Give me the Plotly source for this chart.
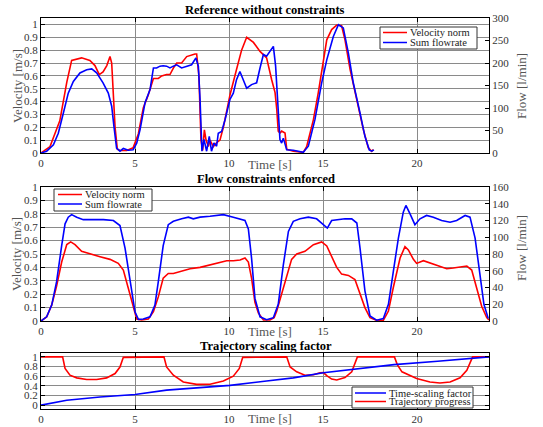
import plotly.graph_objects as go

# ---------------- data ----------------
# Panel 1: Reference without constraints
t_vel1 = [0, 0.48, 1.0, 1.37, 1.63, 1.9, 2.16, 2.6, 2.87, 3.1, 3.3, 3.5, 3.67, 3.76, 3.94, 4.06, 4.2, 4.56, 4.9,
          5.18, 5.44, 5.7, 5.98, 6.24, 6.42, 6.68, 6.86, 7.04, 7.22, 7.48, 7.75, 8.19, 8.28, 8.4, 8.51, 8.6, 8.69,
          8.78, 8.9, 8.99, 9.17, 9.34, 9.52, 9.7, 10.05, 10.4, 10.67, 10.94, 11.3, 11.65, 12.0, 12.27, 12.45, 12.54,
          12.62, 12.71, 12.8, 12.98, 13.07, 13.42, 13.95, 14.13, 14.49, 14.75, 15.02, 15.2, 15.46, 15.73, 15.99,
          16.17, 16.44, 16.79, 17.15, 17.41, 17.59, 17.68]
vel1 = [0, 0.05, 0.25, 0.55, 0.72, 0.73, 0.74, 0.72, 0.68, 0.61, 0.63, 0.68, 0.75, 0.70, 0.20, 0.03, 0.02, 0.02, 0.04,
        0.15, 0.35, 0.45, 0.58, 0.58, 0.60, 0.61, 0.61, 0.66, 0.70, 0.70, 0.75, 0.77, 0.77, 0.60, 0.10, 0.02, 0.18,
        0.10, 0.05, 0.10, 0.05, 0.08, 0.10, 0.20, 0.45, 0.65, 0.80, 0.90, 0.86, 0.79, 0.74, 0.57, 0.47, 0.34,
        0.17, 0.155, 0.17, 0.155, 0.03, 0.013, 0.005, 0.05, 0.26, 0.47, 0.72, 0.88, 0.96, 0.995, 0.99,
        0.88, 0.65, 0.41, 0.18, 0.04, 0.013, 0.026]
t_flow1 = [0, 0.3, 0.66, 0.92, 1.19, 1.45, 1.72, 2.07, 2.43, 2.7, 2.96, 3.3, 3.58, 3.76, 3.88, 4.02, 4.2, 4.38, 4.64,
           4.9, 5.09, 5.27, 5.53, 5.8, 5.98, 6.15, 6.33, 6.5, 6.68, 6.86, 7.04, 7.22, 7.48, 7.75, 8.01, 8.24, 8.37,
           8.46, 8.56, 8.67, 8.81, 8.95, 9.07, 9.2, 9.34, 9.43, 9.61, 9.79, 10.05, 10.23, 10.4, 10.58, 10.94, 11.2,
           11.47, 11.65, 11.83, 12.0, 12.27, 12.36, 12.48, 12.62, 12.71, 12.8, 12.89, 13.07, 13.42, 13.95, 14.22,
           14.57, 14.93, 15.2, 15.55, 15.82, 16.08, 16.35, 16.61, 16.97, 17.23, 17.46, 17.59, 17.71]
flow1 = [0, 4, 18, 44, 89, 133, 159, 178, 185, 187, 178, 156, 133, 104, 59, 11, 4, 10, 6,
         7, 22, 52, 111, 141, 189, 189, 193, 194, 193, 189, 193, 196, 189, 193, 196, 211, 193,
         119, 4, 30, 4, 37, 4, 22, 15, 44, 48, 74, 119, 133, 163, 181, 144, 152,
         156, 189, 219, 215, 233, 237, 193, 96, 30, 22, 33, 7, 6, 1.5, 15,
         74, 156, 207, 259, 285, 278, 222, 156, 89, 37, 7, 4, 7]

# Panel 2: Flow constraints enforced
t_vel2 = [0, 0.3, 0.57, 0.83, 1.1, 1.37, 1.58, 1.81, 2.16, 2.6, 3.14, 3.67, 4.11, 4.38, 4.65, 4.91, 5.09, 5.35, 5.71,
          5.98, 6.24, 6.5, 6.77, 7.04, 7.48, 7.93, 8.46, 8.99, 9.52, 9.88, 10.23, 10.59, 10.85, 11.03, 11.2, 11.38,
          11.56, 11.83, 12.18, 12.4, 12.54, 12.8, 13.07, 13.33, 13.6, 14.04, 14.49, 14.93, 15.2, 15.46, 15.73, 15.99,
          16.35, 16.7, 16.97, 17.23, 17.5, 17.85, 18.21, 18.48, 18.74, 19.1, 19.36, 19.54, 19.81, 19.98, 20.34,
          20.78, 21.22, 21.58, 21.93, 22.29, 22.65, 22.91, 23.18, 23.44, 23.71, 23.83]
vel2 = [0, 0.03, 0.12, 0.26, 0.44, 0.57, 0.59, 0.57, 0.52, 0.50, 0.48, 0.46, 0.43, 0.38, 0.24, 0.09, 0.015, 0.007, 0.015,
        0.07, 0.18, 0.32, 0.355, 0.355, 0.37, 0.39, 0.40, 0.42, 0.44, 0.45, 0.45, 0.455, 0.47, 0.44, 0.32, 0.14,
        0.06, 0.007, 0.007, 0.025, 0.074, 0.20, 0.35, 0.46, 0.50, 0.52, 0.57, 0.59, 0.56, 0.48, 0.40, 0.35,
        0.34, 0.31, 0.21, 0.10, 0.025, 0.005, 0.005, 0.074, 0.25, 0.47, 0.555, 0.53, 0.46, 0.43, 0.45,
        0.43, 0.41, 0.39, 0.395, 0.40, 0.41, 0.38, 0.25, 0.11, 0.025, 0.007]
t_flow2 = [0, 0.3, 0.57, 0.83, 1.1, 1.28, 1.45, 1.63, 1.9, 2.25, 2.78, 3.32, 3.85, 4.2, 4.47, 4.73, 5.0, 5.18, 5.44,
           5.8, 6.06, 6.24, 6.5, 6.77, 7.04, 7.48, 7.84, 8.1, 8.46, 8.99, 9.7, 10.23, 10.85, 11.03, 11.2, 11.38,
           11.65, 12.0, 12.36, 12.62, 12.89, 13.16, 13.42, 13.78, 14.22, 14.66, 15.02, 15.23, 15.46, 15.82, 16.17,
           16.53, 16.8, 16.97, 17.23, 17.5, 17.85, 18.21, 18.48, 18.74, 19.01, 19.27, 19.41, 19.63, 19.89, 20.16,
           20.51, 20.87, 21.31, 21.76, 22.11, 22.56, 22.82, 23.09, 23.35, 23.56, 23.79]
flow2 = [0, 5, 19, 47, 90, 116, 124, 127, 124, 121, 121, 121, 120, 114, 87, 47, 11, 2, 2.4,
         5, 19, 47, 90, 115, 119, 122, 124, 122, 124, 125, 127, 124, 120, 110, 75, 27,
         5, 1.5, 4, 20, 67, 107, 119, 122, 124, 122, 115, 111, 120, 121, 122,
         122, 117, 87, 36, 6, 1, 3, 20, 59, 99, 130, 138, 128, 115, 122,
         126, 124, 120, 118, 120, 126, 124, 99, 55, 20, 3]

# Panel 3: Trajectory scaling factor
t_prog = [0, 1.15, 1.28, 1.54, 1.9, 2.43, 2.96, 3.49, 3.94, 4.2, 4.38, 6.54, 6.68, 7.04, 7.57, 8.28, 8.99, 9.7, 10.23,
          10.55, 10.73, 13.07, 13.25, 13.6, 14.04, 14.49, 14.84, 15.02, 15.2, 15.46, 15.73, 16.17, 16.53, 16.7, 16.83,
          18.8, 18.95, 19.2, 19.98, 20.69, 21.22, 21.76, 22.29, 22.65, 22.86, 22.96, 23.83]
prog = [1, 1, 0.76, 0.62, 0.565, 0.53, 0.53, 0.565, 0.655, 0.79, 0.99, 1, 0.79, 0.62, 0.48, 0.43, 0.434, 0.50, 0.60,
        0.76, 0.99, 1, 0.79, 0.69, 0.62, 0.63, 0.67, 0.675, 0.61, 0.54, 0.52, 0.57, 0.69, 0.86, 1.0,
        1, 0.84, 0.69, 0.55, 0.48, 0.46, 0.48, 0.565, 0.72, 0.90, 1.0, 1.0]
t_scale = [0, 1.37, 3.14, 5.0, 6.68, 8.46, 10.05, 12.0, 13.42, 15.02, 16.97, 18.78, 21.1, 23.83]
scale = [0, 0.10, 0.17, 0.22, 0.31, 0.365, 0.41, 0.50, 0.565, 0.67, 0.76, 0.84, 0.91, 1.0]

titles = ["Reference without constraints", "Flow constraints enforced", "Trajectory scaling factor"]
legend1 = ["Velocity norm", "Sum flowrate"]
legend3 = ["Time-scaling factor", "Trajectory progress"]
x_ticks = [0, 5, 10, 15, 20]

# ---------------- layout helpers ----------------
W, H = 543, 427
L, R, T, B = 41, 489, 18, 409
RED, BLUE = "#ff0000", "#0000ff"
FONT = "Liberation Serif, Times New Roman, serif"
XMAX = 23.83


def px(x, y):
    return (x - L) / (R - L), (B - y) / (B - T)


def dom(top, bot):
    return [px(0, bot)[1], px(0, top)[1]]


fig = go.Figure()
lw = 1.6
fig.add_trace(go.Scatter(x=t_vel1, y=vel1, mode="lines", line=dict(color=RED, width=lw), xaxis="x", yaxis="y", showlegend=False))
fig.add_trace(go.Scatter(x=t_flow1, y=flow1, mode="lines", line=dict(color=BLUE, width=lw), xaxis="x", yaxis="y2", showlegend=False))
fig.add_trace(go.Scatter(x=t_flow2, y=flow2, mode="lines", line=dict(color=BLUE, width=lw), xaxis="x2", yaxis="y4", showlegend=False))
fig.add_trace(go.Scatter(x=t_vel2, y=vel2, mode="lines", line=dict(color=RED, width=lw), xaxis="x2", yaxis="y3", showlegend=False))
fig.add_trace(go.Scatter(x=t_prog, y=prog, mode="lines", line=dict(color=RED, width=lw), xaxis="x3", yaxis="y5", showlegend=False))
fig.add_trace(go.Scatter(x=t_scale, y=scale, mode="lines", line=dict(color=BLUE, width=lw), xaxis="x3", yaxis="y5", showlegend=False))

GRID = "#8a8a8a"
TICKC = "#333333"
tickfont = dict(family=FONT, size=11, color=TICKC)

xcommon = dict(range=[0, XMAX], tickvals=x_ticks, showgrid=True, gridcolor=GRID, gridwidth=1,
               showline=True, linecolor="black", linewidth=1, mirror="ticks", ticks="inside", ticklen=4,
               tickcolor="black", tickfont=tickfont, zeroline=False, fixedrange=True, automargin=False)
ycommon = dict(showgrid=True, gridcolor=GRID, gridwidth=1, showline=True, linecolor="black", linewidth=1,
               ticks="inside", ticklen=4, tickcolor="black", tickfont=tickfont, zeroline=False, automargin=False)
y2common = dict(showgrid=False, showline=True, linecolor="black", ticks="inside", ticklen=4, tickcolor="black",
                tickfont=tickfont, zeroline=False, automargin=False)

d1 = dom(18, 153)
d2 = dom(187, 321)
d3 = dom(353, 409)

vt = [i / 10 for i in range(11)]
vtt = ["0"] + [f"{i/10:g}" for i in range(1, 10)] + ["1"]

fig.update_layout(
    template="none",
    width=W, height=H,
    margin=dict(l=L, r=W - R, t=T, b=H - B, autoexpand=False),
    paper_bgcolor="white", plot_bgcolor="white",
    font=dict(family=FONT),
    xaxis=dict(domain=[0, 1], anchor="y", **xcommon),
    xaxis2=dict(domain=[0, 1], anchor="y3", **xcommon),
    xaxis3=dict(domain=[0, 1], anchor="y5", **xcommon),
    yaxis=dict(domain=d1, anchor="x", range=[0, 1.05], tickvals=vt, ticktext=vtt, mirror=True, **ycommon),
    yaxis2=dict(overlaying="y", anchor="x", side="right", range=[0, 300], tickvals=list(range(0, 301, 50)), **y2common),
    yaxis3=dict(domain=d2, anchor="x2", range=[0, 1], tickvals=vt, ticktext=vtt, mirror=True, **ycommon),
    yaxis4=dict(overlaying="y3", anchor="x2", side="right", range=[0, 160], tickvals=list(range(0, 161, 20)), **y2common),
    yaxis5=dict(domain=d3, anchor="x3", range=[-0.08, 1.08], tickvals=[0, 0.2, 0.4, 0.6, 0.8, 1],
                ticktext=["0", "0.2", "0.4", "0.6", "0.8", "1"], mirror="ticks", **ycommon),
)

ann = []
shapes = []


def text(x, y, s, size=13, color="#555555", bold=False, angle=0, xanchor="center"):
    xp, yp = px(x, y)
    ann.append(dict(x=xp, y=yp, xref="paper", yref="paper", text=f"<b>{s}</b>" if bold else s, showarrow=False,
                    font=dict(family=FONT, size=size, color=color), textangle=angle, xanchor=xanchor,
                    yanchor="middle"))


# titles
text(265, 10, titles[0], size=12.5, color="black", bold=True)
text(266, 179, titles[1], size=12.5, color="black", bold=True)
text(266, 346, titles[2], size=12.5, color="black", bold=True)
# x labels
for yy in (164, 331, 418):
    text(270, yy, "Time [s]", size=13)
# y labels
text(17, 86, "Velocity [m/s]", size=13, angle=-90)
text(17, 254, "Velocity [m/s]", size=13, angle=-90)
text(521, 86, "Flow [l/min]", size=13, angle=-90)
text(521, 248, "Flow [l/min]", size=13, angle=-90)


def legend(box, names, colors, lx0, lx1, ys, tx):
    x0, y0, x1, y1 = box
    a, b = px(x0, y0)
    c, d = px(x1, y1)
    shapes.append(dict(type="rect", xref="paper", yref="paper", x0=a, y0=d, x1=c, y1=b,
                       line=dict(color="#333333", width=1), fillcolor="white", layer="above"))
    for n, col, yy in zip(names, colors, ys):
        p0 = px(lx0, yy)
        p1 = px(lx1, yy)
        shapes.append(dict(type="line", xref="paper", yref="paper", x0=p0[0], y0=p0[1], x1=p1[0], y1=p1[1],
                           line=dict(color=col, width=1.5), layer="above"))
        text(tx, yy, n, size=10.5, color="#222222", xanchor="left")


legend((380, 27, 477, 49), legend1, [RED, BLUE], 383, 407, [32.5, 42.5], 408)
legend((54, 189, 152, 211), legend1, [RED, BLUE], 58, 82, [194.5, 204], 83)
legend((352, 387, 473, 408), legend3, [BLUE, RED], 355, 386, [393, 401.5], 387)

fig.update_layout(annotations=ann, shapes=shapes)
fig.write_html("out.html", config={"displayModeBar": False},
               post_script="document.body.style.margin='0';document.body.style.overflow='hidden';")
